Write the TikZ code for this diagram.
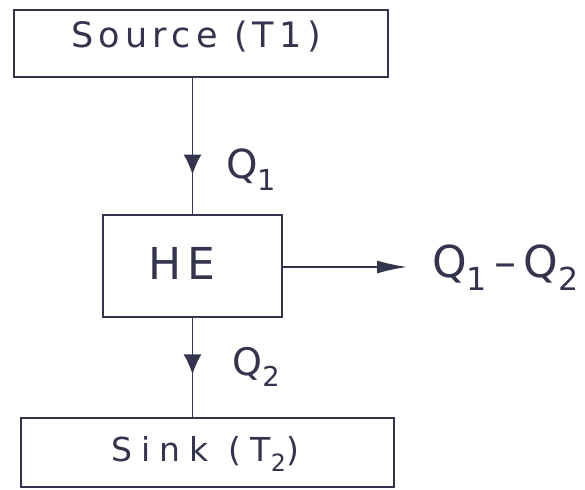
\documentclass[tikz,border=0pt]{standalone}
\usepackage{fontspec}
\setmainfont{DejaVu Sans}
\newfontfamily\handA[LetterSpace=15]{DejaVu Sans}
\newfontfamily\handB[LetterSpace=28]{DejaVu Sans}
\newfontfamily\handC[LetterSpace=12]{DejaVu Sans}
\newcommand{\lowsub}[1]{\raisebox{-0.3em}{\scalebox{0.72}{#1}}}
\usetikzlibrary{arrows.meta,decorations.markings}
\definecolor{ink}{RGB}{52,52,78}
\tikzset{
  box/.style={draw=ink,line width=1.6pt,minimum width=#1,inner sep=0pt},
  lbl/.style={text=ink,inner sep=0pt},
  midarrow/.style={postaction={decorate},decoration={markings,
     mark=at position #1 with {\arrow{Latex[length=20pt,width=18pt]}}}},
  flow/.style={draw=ink,line width=1.5pt}
}
\begin{document}
\begin{tikzpicture}[x=1pt,y=-1pt]
\useasboundingbox (0,0) rectangle (585,489);
\node[box=374pt,minimum height=67pt] (source) at (201,43.5) {};
\node[box=179pt,minimum height=102pt] (he) at (192.5,266) {};
\node[box=373pt,minimum height=69pt] (sink) at (207.5,452.5) {};
\node[lbl,font=\handA\fontsize{35}{35}\selectfont] (tsource) at (196,37) {Source (T1)};
\node[lbl,font=\handC\fontsize{44}{44}\selectfont] (the) at (182,263) {HE};
\node[lbl,font=\handB\fontsize{33}{33}\selectfont] (tsink) at (205,454) {Sink (T\lowsub{2})};
\node[lbl,font=\fontsize{40}{40}\selectfont] (q1) at (251,170) {Q\lowsub{1}};
\node[lbl,font=\fontsize{38}{38}\selectfont] (q2) at (256,367) {Q\lowsub{2}};
\node[lbl,font=\fontsize{44}{44}\selectfont,anchor=west] (qdiff) at (432,268) {Q\lowsub{1}\,–\,Q\lowsub{2}};
\coordinate (out) at (407,267);
\draw[flow,midarrow=0.71] (he.north |- source.south) -- (he.north);
\draw[flow,midarrow=0.57] (he.south) -- (he.south |- sink.north);
\draw[flow,-{Latex[length=30pt,width=13pt]}] (he.east |- out) -- (out);
\end{tikzpicture}
\end{document}
